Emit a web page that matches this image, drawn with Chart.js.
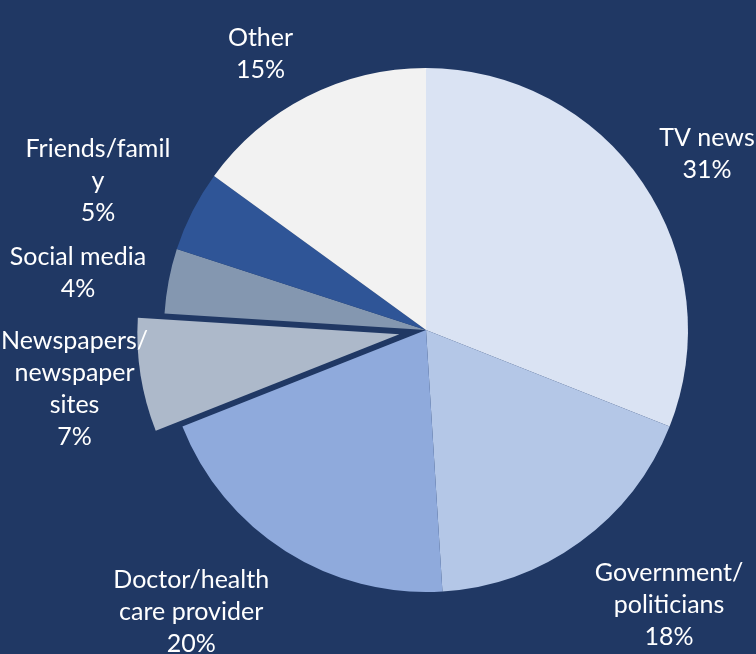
<!DOCTYPE html>
<html>
<head>
<meta charset="utf-8">
<script src="https://cdn.jsdelivr.net/npm/chart.js@4.4.1/dist/chart.umd.min.js"></script>
<style>
  html, body { margin: 0; padding: 0; background: #203864; }
  #wrap { width: 756px; height: 654px; }
</style>
</head>
<body>
<div id="wrap"><canvas id="c" width="756" height="654"></canvas></div>
<script>
// Where people get their information (share of respondents)
const categories = ['TV news', 'Government/politicians', 'Doctor/health care provider',
  'Newspapers/newspaper sites', 'Social media', 'Friends/family', 'Other'];
const shares = [31, 18, 20, 7, 4, 5, 15];
// wrapped label text for each slice (value line appended when drawn)
const labelLines = [
  ['TV news'],
  ['Government/', 'politicians'],
  ['Doctor/health', 'care provider'],
  ['Newspapers/', 'newspaper', 'sites'],
  ['Social media'],
  ['Friends/famil', 'y'],
  ['Other']
];
const sliceColors = ['#DAE3F3', '#B4C7E7', '#8FAADC', '#ADB9CA', '#8497B0', '#2F5597', '#F2F2F2'];
// how far each slice is pulled out from the centre, in px
const explode = [0, 0, 0, 27, 0, 0, 0];
// label placement: [angle shift from slice middle in degrees, distance in radii]
const labelPlace = [[2.1, 1.266], [-5.5, 1.40], [7.4, 1.40], [-0.5, 1.36],
  [-1.5, 1.346], [-2.6, 1.375], [-3.9, 1.23]];

const FONT = '25px Lato';
const LINE_H = 32;

// Arc that is translated whole along its bisector (a true "exploded" slice)
class ShiftedArc extends Chart.ArcElement {
  draw(ctx) {
    const d = this.options.shift || 0;
    if (!d) { super.draw(ctx); return; }
    const { startAngle, endAngle } = this.getProps(['startAngle', 'endAngle']);
    const mid = (startAngle + endAngle) / 2;
    ctx.save();
    ctx.translate(Math.cos(mid) * d, Math.sin(mid) * d);
    super.draw(ctx);
    ctx.restore();
  }
}
ShiftedArc.id = 'shiftedArc';
ShiftedArc.defaults = { shift: 0 };

class ExplodedPie extends Chart.PieController {}
ExplodedPie.id = 'explodedPie';
ExplodedPie.defaults = { dataElementType: 'shiftedArc' };

Chart.register(ShiftedArc, ExplodedPie);

const sliceLabels = {
  id: 'sliceLabels',
  afterDatasetsDraw(chart) {
    const ctx = chart.ctx;
    const arcs = chart.getDatasetMeta(0).data;
    ctx.save();
    ctx.font = FONT;
    ctx.fillStyle = '#FFFFFF';
    ctx.textAlign = 'center';
    ctx.textBaseline = 'middle';
    arcs.forEach((arc, i) => {
      const p = arc.getProps(['x', 'y', 'startAngle', 'endAngle', 'outerRadius'], true);
      const mid = (p.startAngle + p.endAngle) / 2 + labelPlace[i][0] * Math.PI / 180;
      const r = p.outerRadius * labelPlace[i][1];
      const cx = p.x + Math.cos(mid) * r;
      const cy = p.y + Math.sin(mid) * r;
      const lines = labelLines[i].concat([shares[i] + '%']);
      const top = cy - (lines.length - 1) * LINE_H / 2;
      lines.forEach((t, k) => ctx.fillText(t, cx, top + k * LINE_H));
    });
    ctx.restore();
  }
};

new Chart(document.getElementById('c'), {
  type: 'explodedPie',
  data: {
    labels: categories,
    datasets: [{
      data: shares,
      backgroundColor: sliceColors,
      borderWidth: 0,
      hoverBorderWidth: 0,
      hoverOffset: 0,
      shift: explode
    }]
  },
  options: {
    responsive: false,
    animation: false,
    events: [],
    layout: { padding: { left: 100, right: 4, top: 68, bottom: 62 } },
    plugins: { legend: { display: false }, tooltip: { enabled: false } }
  },
  plugins: [sliceLabels]
});
</script>
</body>
</html>
